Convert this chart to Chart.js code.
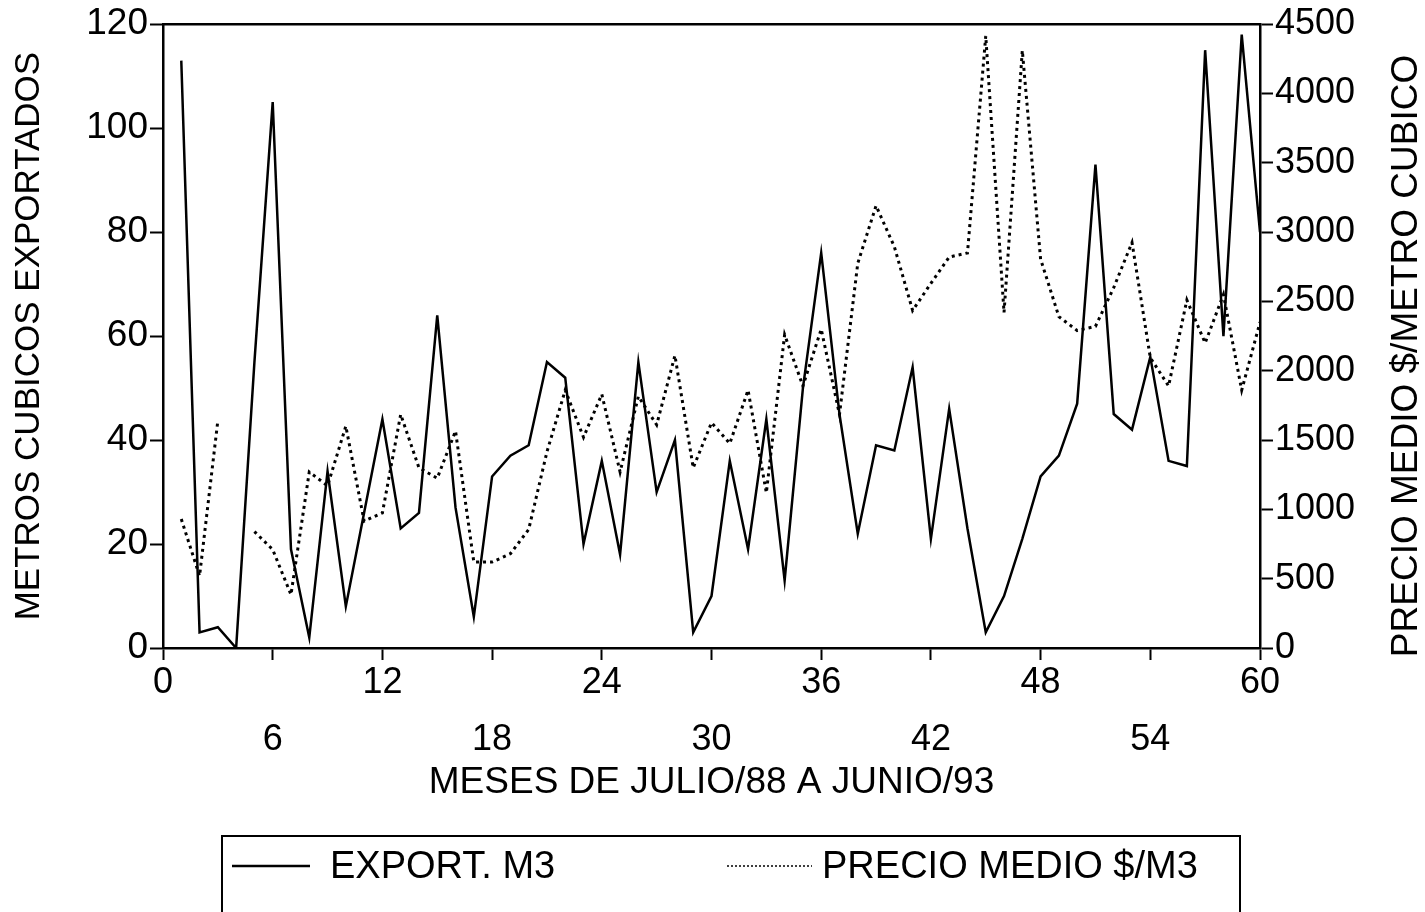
<!DOCTYPE html>
<html><head><meta charset="utf-8">
<script src="https://cdn.jsdelivr.net/npm/chart.js@4.4.0/dist/chart.umd.min.js"></script>
<style>html,body{margin:0;padding:0;background:#fff;}#wrap{width:1425px;height:912px;}</style>
</head><body><div id="wrap"><canvas id="c" width="1425" height="912"></canvas></div>
<script>
const months = [1,2,3,4,5,6,7,8,9,10,11,12,13,14,15,16,17,18,19,20,21,22,23,24,25,26,27,28,29,30,
  31,32,33,34,35,36,37,38,39,40,41,42,43,44,45,46,47,48,49,50,51,52,53,54,55,56,57,58,59,60];
const exportM3 = [113,3,4,0,55,105,19,2,34,8,26,44,23,26,64,27,6,33,37,39,
  55,52,20,36,18,55,30,40,3,10,36,19,44,13,50,76,45,22,39,38,
  54,21,46,23,3,10,21,33,37,47,93,45,42,56,36,35,115,60,118,80];
const precioMedio = [930,520,1640,null,840,710,385,1270,1170,1600,915,975,1685,1300,1225,1565,620,620,680,855,
  1415,1860,1520,1830,1270,1815,1610,2110,1300,1625,1475,1860,1120,2260,1890,2300,1685,2775,3190,2895,
  2435,2630,2820,2850,4415,2420,4310,2805,2390,2290,2320,2600,2925,2095,1890,2510,2200,2550,1860,2350];
const xTicks = [0,6,12,18,24,30,36,42,48,54,60];
const leftTicks = [0,20,40,60,80,100,120];
const rightTicks = [0,500,1000,1500,2000,2500,3000,3500,4000,4500];
const seriesLabels = ['EXPORT. M3','PRECIO MEDIO $/M3'];
const leftTitle = 'METROS CUBICOS EXPORTADOS';
const rightTitle = 'PRECIO MEDIO $/METRO CUBICO';
const xTitle = 'MESES DE JULIO/88 A JUNIO/93';

const FONT = '"Liberation Sans", Arial, sans-serif';

const decor = {
  id: 'decor',
  afterDraw(chart) {
    const {ctx, chartArea: a} = chart;
    ctx.save();
    ctx.strokeStyle = '#000'; ctx.lineWidth = 2.5;
    ctx.beginPath(); ctx.moveTo(a.left, a.top); ctx.lineTo(a.right, a.top); ctx.stroke();
    // right title (reads bottom to top)
    ctx.save();
    ctx.font = '37px ' + FONT; ctx.fillStyle = '#000';
    ctx.translate(1407, 356); ctx.rotate(-Math.PI / 2);
    ctx.textAlign = 'center'; ctx.textBaseline = 'middle';
    ctx.fillText(rightTitle, 0, 0);
    ctx.restore();
    // legend box
    ctx.lineWidth = 2; ctx.strokeStyle = '#000';
    ctx.strokeRect(222, 836, 1018, 100);
    const ds = chart.data.datasets;
    const items = [{x0: 232, x1: 310, tx: 330}, {x0: 727, x1: 812, tx: 822}];
    ctx.font = '38px ' + FONT; ctx.fillStyle = '#000'; ctx.textBaseline = 'middle'; ctx.textAlign = 'left';
    items.forEach((it, i) => {
      ctx.save();
      ctx.strokeStyle = ds[i].borderColor;
      ctx.lineWidth = i === 0 ? 2.5 : 1.5;
      ctx.setLineDash(i === 0 ? [] : [2, 2]);
      ctx.beginPath(); ctx.moveTo(it.x0, 866); ctx.lineTo(it.x1, 866); ctx.stroke();
      ctx.restore();
      ctx.fillText(ds[i].label, it.tx, 868);
    });
    ctx.restore();
  }
};

new Chart(document.getElementById('c'), {
  type: 'line',
  data: {
    datasets: [
      {label: seriesLabels[0], data: months.map((m, i) => ({x: m, y: exportM3[i]})), yAxisID: 'y',
       borderColor: '#000', borderWidth: 2.5, pointRadius: 0, tension: 0, fill: false},
      {label: seriesLabels[1], data: months.map((m, i) => ({x: m, y: precioMedio[i]})), yAxisID: 'y2',
       borderColor: '#000', borderWidth: 3, borderDash: [3, 4], pointRadius: 0, tension: 0, fill: false, spanGaps: false}
    ]
  },
  options: {
    responsive: false, animation: false, devicePixelRatio: 1,
    layout: {padding: {left: 0, right: 0, top: 22, bottom: 100}},
    plugins: {legend: {display: false}, tooltip: {enabled: false}},
    scales: {
      x: {
        type: 'linear', min: 0, max: 60,
        afterBuildTicks: s => { s.ticks = xTicks.map(v => ({value: v})); },
        afterFit: s => { s.height = 164; },
        grid: {drawOnChartArea: false, drawTicks: true, tickLength: 12, tickColor: '#000', tickWidth: 2},
        border: {display: true, color: '#000', width: 2.5},
        ticks: {color: '#000', font: {family: FONT, size: 36, lineHeight: 1.6}, padding: -6, maxRotation: 0, autoSkip: false,
          callback: v => (v % 12 === 0 ? String(v) : ['', String(v)])},
        title: {display: true, text: xTitle, color: '#000', font: {family: FONT, size: 37}, padding: {top: 0, bottom: 7}}
      },
      y: {
        position: 'left', min: 0, max: 120,
        afterBuildTicks: s => { s.ticks = leftTicks.map(v => ({value: v})); },
        afterFit: s => { s.width = 163; },
        grid: {drawOnChartArea: false, drawTicks: true, tickLength: 13, tickColor: '#000', tickWidth: 2},
        border: {display: true, color: '#000', width: 2.5},
        ticks: {color: '#000', font: {family: FONT, size: 37}, padding: 2, callback: v => String(v)},
        title: {display: true, text: leftTitle, color: '#000', font: {family: FONT, size: 35}, padding: {top: 8, bottom: 0}}
      },
      y2: {
        position: 'right', min: 0, max: 4500,
        afterBuildTicks: s => { s.ticks = rightTicks.map(v => ({value: v})); },
        afterFit: s => { s.width = 165; },
        grid: {drawOnChartArea: false, drawTicks: true, tickLength: 13, tickColor: '#000', tickWidth: 2},
        border: {display: true, color: '#000', width: 2.5},
        ticks: {color: '#000', font: {family: FONT, size: 36}, padding: 2, callback: v => String(v)}
      }
    }
  },
  plugins: [decor]
});
</script></body></html>
